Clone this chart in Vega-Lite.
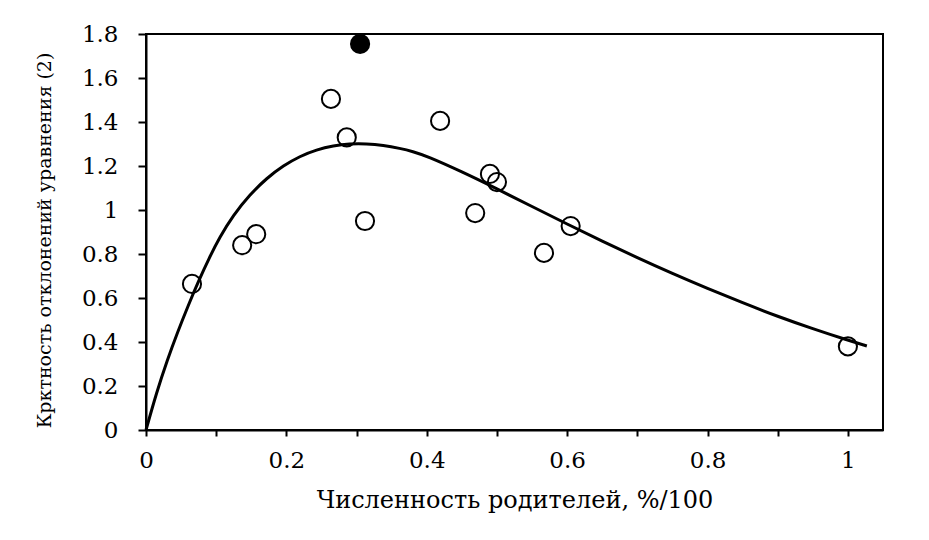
{
  "$schema": "https://vega.github.io/schema/vega-lite/v6.json",
  "width": 737,
  "height": 396,
  "autosize": {"type": "none"},
  "padding": {"left": 146, "top": 34, "right": 46, "bottom": 110},
  "background": "white",
  "config": {
    "view": {"stroke": "black", "strokeWidth": 2},
    "font": "DejaVu Serif",
    "axis": {
      "grid": false,
      "domainColor": "black",
      "domainWidth": 2,
      "tickColor": "black",
      "tickWidth": 2,
      "tickSize": 7,
      "labelFont": "DejaVu Serif",
      "labelFontSize": 23,
      "labelColor": "black",
      "labelFlush": false,
      "labelOverlap": false,
      "labelBound": false,
      "titleFont": "DejaVu Serif",
      "titleFontSize": 24,
      "titleFontWeight": "normal",
      "titleColor": "black"
    }
  },
  "datasets": {
    "curve": [
      {"x": 0, "y": 0},
      {"x": 0.015, "y": 0.17},
      {"x": 0.03, "y": 0.315},
      {"x": 0.045, "y": 0.445},
      {"x": 0.06, "y": 0.565},
      {"x": 0.075, "y": 0.678},
      {"x": 0.09, "y": 0.782},
      {"x": 0.105, "y": 0.876},
      {"x": 0.124, "y": 0.975},
      {"x": 0.148, "y": 1.07},
      {"x": 0.172, "y": 1.145},
      {"x": 0.196, "y": 1.202},
      {"x": 0.219, "y": 1.244},
      {"x": 0.243, "y": 1.274},
      {"x": 0.267, "y": 1.292},
      {"x": 0.29, "y": 1.301},
      {"x": 0.314, "y": 1.301},
      {"x": 0.338, "y": 1.294},
      {"x": 0.362, "y": 1.28},
      {"x": 0.38, "y": 1.266},
      {"x": 0.4, "y": 1.245},
      {"x": 0.45, "y": 1.174},
      {"x": 0.5, "y": 1.096},
      {"x": 0.55, "y": 1.016},
      {"x": 0.6, "y": 0.936},
      {"x": 0.65, "y": 0.858},
      {"x": 0.7, "y": 0.783},
      {"x": 0.75, "y": 0.711},
      {"x": 0.8, "y": 0.643},
      {"x": 0.85, "y": 0.578},
      {"x": 0.9, "y": 0.516},
      {"x": 0.95, "y": 0.46},
      {"x": 1.0, "y": 0.408},
      {"x": 1.027, "y": 0.382}
    ],
    "points": [
      {"x": 0.0655, "y": 0.664, "kind": "open"},
      {"x": 0.137, "y": 0.84, "kind": "open"},
      {"x": 0.157, "y": 0.89, "kind": "open"},
      {"x": 0.2635, "y": 1.505, "kind": "open"},
      {"x": 0.286, "y": 1.33, "kind": "open"},
      {"x": 0.305, "y": 1.755, "kind": "filled"},
      {"x": 0.312, "y": 0.95, "kind": "open"},
      {"x": 0.419, "y": 1.405, "kind": "open"},
      {"x": 0.469, "y": 0.986, "kind": "open"},
      {"x": 0.49, "y": 1.164, "kind": "open"},
      {"x": 0.5, "y": 1.127, "kind": "open"},
      {"x": 0.567, "y": 0.805, "kind": "open"},
      {"x": 0.605, "y": 0.927, "kind": "open"},
      {"x": 1.0, "y": 0.38, "kind": "open"}
    ]
  },
  "encoding": {
    "x": {
      "field": "x",
      "type": "quantitative",
      "scale": {"domain": [0, 1.05], "nice": false, "zero": false},
      "axis": {
        "title": "Численность родителей, %/100",
        "values": [0, 0.1, 0.2, 0.3, 0.4, 0.5, 0.6, 0.7, 0.8, 0.9, 1.0],
        "labelExpr": "round(datum.value * 10) % 2 == 0 ? '' + datum.value : ''",
        "tickSize": 6,
        "labelPadding": 13,
        "titlePadding": 16
      }
    },
    "y": {
      "field": "y",
      "type": "quantitative",
      "scale": {"domain": [0, 1.8], "nice": false},
      "axis": {
        "title": "Крктность отклонений уравнения (2)",
        "titleFontSize": 19,
        "values": [0, 0.2, 0.4, 0.6, 0.8, 1.0, 1.2, 1.4, 1.6, 1.8],
        "format": "~g",
        "tickSize": 8,
        "labelPadding": 20,
        "titleX": -92,
        "titleY": 206
      }
    }
  },
  "layer": [
    {
      "data": {"name": "curve"},
      "mark": {"type": "line", "color": "black", "strokeWidth": 3, "interpolate": "basis"}
    },
    {
      "data": {"name": "points"},
      "mark": {"type": "circle", "size": 330, "stroke": "black", "strokeWidth": 2, "opacity": 1},
      "encoding": {
        "fill": {
          "field": "kind",
          "type": "nominal",
          "scale": {"domain": ["open", "filled"], "range": ["transparent", "black"]},
          "legend": null
        }
      }
    }
  ]
}
